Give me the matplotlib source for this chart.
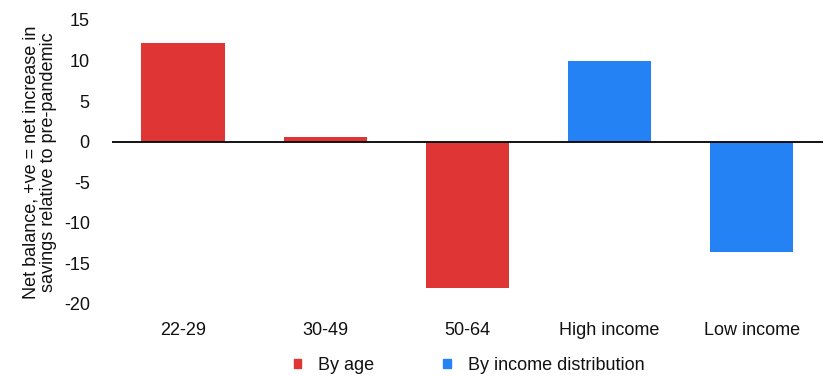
import matplotlib.pyplot as plt
from matplotlib.patches import Patch

plt.rcParams['font.family'] = ['Liberation Sans', 'DejaVu Sans']
plt.rcParams['axes.unicode_minus'] = False

categories = ["22-29", "30-49", "50-64", "High income", "Low income"]
values = [12.1, 0.6, -18.0, 10.0, -13.6]
groups = ["By age", "By age", "By age", "By income distribution", "By income distribution"]

colors = {"By age": "#E03535", "By income distribution": "#2482F4"}

fig = plt.figure(figsize=(8.26, 3.76), dpi=100)
ax = fig.add_axes([0.1356, 0.1915, 0.8604, 0.7555])

ax.bar(range(len(categories)), values, width=0.585,
       color=[colors[g] for g in groups], zorder=2)
ax.axhline(0, color="black", linewidth=1.3, zorder=3)

ax.set_xlim(-0.5, len(categories) - 0.5)
ax.set_ylim(-20, 15)
ax.set_yticks(range(-20, 16, 5))
ax.set_xticks(range(len(categories)))
ax.set_xticklabels(categories)
ax.tick_params(axis="both", length=0, labelsize=13, colors="#111111")
ax.tick_params(axis="x", pad=13)
ax.tick_params(axis="y", pad=16)
for s in ax.spines.values():
    s.set_visible(False)

ax.set_ylabel("Net balance, +ve = net increase in\nsavings relative to pre-pandemic",
              fontsize=13, linespacing=1.05, labelpad=5, color="#111111")

handles = [Patch(color=colors[k]) for k in colors]
fig.legend(handles, list(colors), loc="lower center", bbox_to_anchor=(0.568, -0.037),
           ncol=2, frameon=False, fontsize=13, handlelength=0.42, handleheight=0.42,
           columnspacing=3.8, handletextpad=0.95, labelcolor="#111111")

fig.savefig("out.png", dpi=100)
